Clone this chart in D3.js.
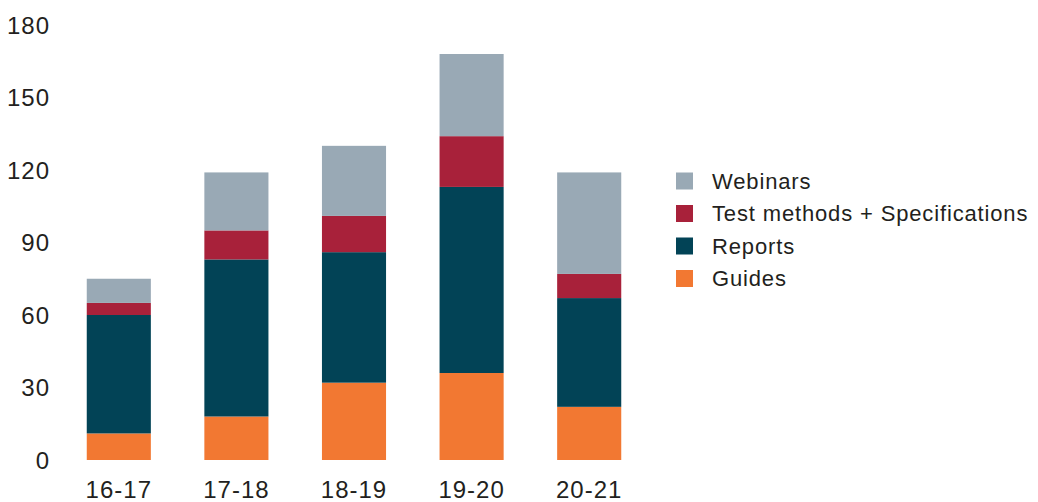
<!DOCTYPE html>
<html><head><meta charset="utf-8">
<script src="https://cdn.jsdelivr.net/npm/d3@7"></script>
<style>body{margin:0;background:#fff}svg{display:block}text{font-family:"Liberation Sans",Arial,sans-serif;fill:#231f20}</style>
</head><body><svg id="c" width="1038" height="502"></svg>
<script>
const years = ["16-17","17-18","18-19","19-20","20-21"];
const guides = [11,18,32,36,22];
const reports = [49,65,54,77,45];
const testMethods = [5,12,15,21,10];
const webinars = [10,24,29,34,42];
const seriesNames = ["Guides","Reports","Test methods + Specifications","Webinars"];
const seriesColors = ["#f27832","#024356","#a8213a","#99a9b5"];
const yTicks = [0,30,60,90,120,150,180];

const svg = d3.select("#c");
const rows = years.map((y,i)=>({year:y,"Guides":guides[i],"Reports":reports[i],"Test methods + Specifications":testMethods[i],"Webinars":webinars[i]}));
const stack = d3.stack().keys(seriesNames)(rows);

const x = d3.scaleBand().domain(years).range([60,648]).paddingInner(0.455).paddingOuter(0.2275);
const y = d3.scaleLinear().domain([0,180]).range([460,25]);
const color = d3.scaleOrdinal().domain(seriesNames).range(seriesColors);

svg.append("g").selectAll("g").data(stack).join("g")
  .attr("fill",d=>color(d.key))
  .selectAll("rect").data(d=>d).join("rect")
  .attr("x",d=>x(d.data.year)).attr("width",x.bandwidth())
  .attr("y",d=>y(d[1])).attr("height",d=>y(d[0])-y(d[1]));

const yAxis = svg.append("g").attr("transform","translate(50,0)")
  .call(d3.axisLeft(y).tickValues(yTicks).tickSize(0).tickPadding(0));
yAxis.select(".domain").remove();
yAxis.selectAll("text").style("font-size","24px").style("letter-spacing","1px").attr("dy","0.34em").attr("fill","#231f20");

const xAxis = svg.append("g").attr("transform","translate(0,481)")
  .call(d3.axisBottom(x).tickSize(0).tickPadding(0));
xAxis.select(".domain").remove();
xAxis.selectAll("text").style("font-size","24px").style("letter-spacing","1px").attr("dy","0.72em").attr("fill","#231f20");

const legendOrder = ["Webinars","Test methods + Specifications","Reports","Guides"];
const lg = svg.append("g").selectAll("g").data(legendOrder).join("g")
  .attr("transform",(d,i)=>`translate(676,${181+i*32.5})`);
lg.append("rect").attr("x",0).attr("y",-8.5).attr("width",17).attr("height",17).attr("fill",d=>color(d));
lg.append("text").attr("x",36).attr("y",0).attr("dy","0.35em").style("font-size","22px").style("letter-spacing","0.85px").text(d=>d);
</script></body></html>
